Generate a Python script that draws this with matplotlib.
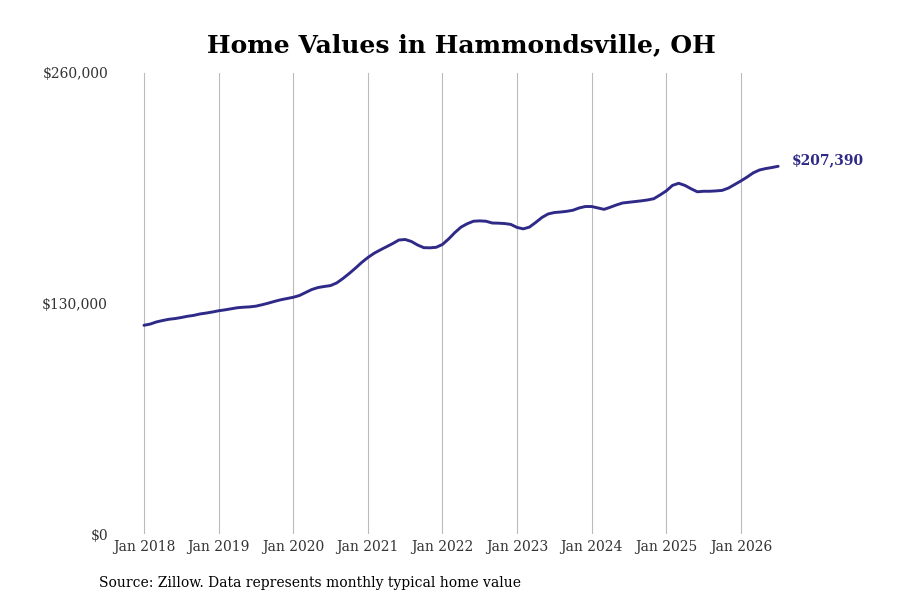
import numpy as np
import matplotlib.pyplot as plt

plt.rcParams['font.family'] = ['DejaVu Serif']

# monthly typical home value, Jan 2018 .. Jul 2026
values = [
    117700, 118400, 119600, 120400, 121100, 121500, 122100, 122800, 123300, 124100, 124600, 125200,
    125900, 126400, 127000, 127600, 127900, 128100, 128500, 129300, 130200, 131200, 132100, 132800,
    133500, 134500, 136200, 137900, 139000, 139600, 140100, 141600, 144100, 146900, 149900, 153100,
    155900, 158300, 160200, 162000, 163800, 165800, 166100, 165000, 163000, 161500, 161400, 161700,
    163300, 166400, 170000, 173100, 175000, 176400, 176600, 176400, 175400, 175300, 175100, 174600,
    172900, 172100, 173100, 175700, 178500, 180500, 181300, 181600, 182000, 182600, 183900, 184700,
    184700, 183900, 183100, 184300, 185600, 186700, 187100, 187500, 187900, 188400, 189100, 191200,
    193500, 196600, 197800, 196600, 194700, 193000, 193300, 193300, 193500, 193800, 195100, 197100,
    199100, 201300, 203700, 205300, 206100, 206700, 207390,
]
tick_labels = ['Jan 2018', 'Jan 2019', 'Jan 2020', 'Jan 2021', 'Jan 2022',
               'Jan 2023', 'Jan 2024', 'Jan 2025', 'Jan 2026']
y_ticks = [0, 130000, 260000]

months = np.arange(len(values))
line_color = '#2f2a87'

fig = plt.figure(figsize=(9, 6), dpi=100)
ax = fig.add_axes([115 / 900, 66 / 600, 670 / 900, 461 / 600])

ax.plot(months, values, color=line_color, linewidth=2.1, solid_capstyle='round')
ax.annotate(f'${values[-1]:,}', (months[-1], values[-1]), xytext=(9.7, 4.5),
            textcoords='offset points', color=line_color,
            fontsize=10, fontweight='bold', va='center', ha='left')

ax.set_xlim(-4.66, 103.1)
ax.set_ylim(0, 260000)
ax.set_xticks(np.arange(0, 97, 12))
ax.set_xticklabels(tick_labels)
ax.set_yticks(y_ticks)
ax.set_yticklabels([f'${v:,}' for v in y_ticks])
ax.tick_params(axis='both', length=0, labelsize=10, labelcolor='#333333')
ax.tick_params(axis='y', pad=5)
ax.tick_params(axis='x', pad=4)
ax.grid(axis='x', color='#bbbbbb', linewidth=0.8)
for s in ax.spines.values():
    s.set_visible(False)

fig.text(461 / 900, 1 - 45 / 600, 'Home Values in Hammondsville, OH', ha='center', va='center',
         fontsize=18, fontweight='bold')
fig.text(99 / 900, 1 - 583 / 600, 'Source: Zillow. Data represents monthly typical home value',
         ha='left', va='center', fontsize=10)

fig.savefig('out.png', dpi=100)
